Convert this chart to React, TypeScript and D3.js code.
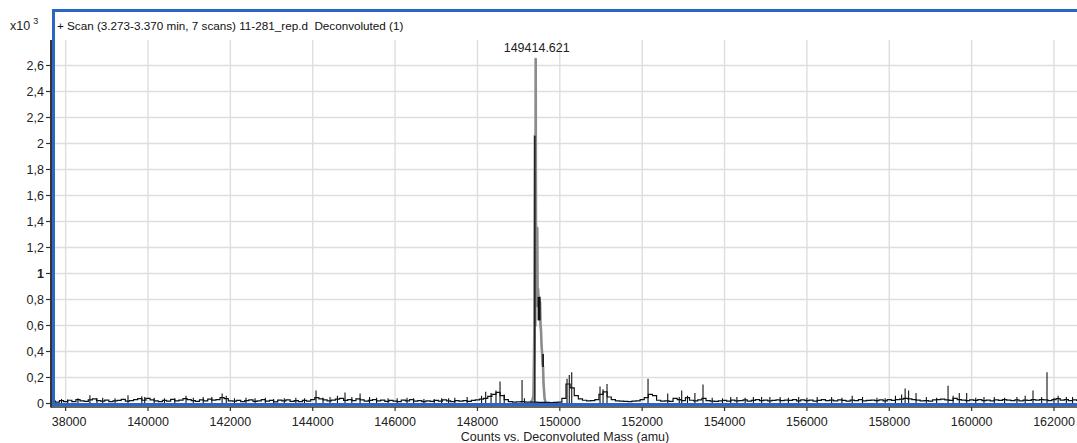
import React from "react";
import * as d3 from "d3";

// header / labels
const scaleLabel = "x10";
const scaleExp = "3";
const title = "+ Scan (3.273-3.370 min, 7 scans) 11-281_rep.d  Deconvoluted (1)";
const xTitle = "Counts vs. Deconvoluted Mass (amu)";
const peakLabel = "149414.621";
const peakMass = 149414.621;

const xTicks = [138000, 140000, 142000, 144000, 146000, 148000, 150000, 152000, 154000, 156000, 158000, 160000, 162000];
const yTicks = [0, 0.2, 0.4, 0.6, 0.8, 1, 1.2, 1.4, 1.6, 1.8, 2, 2.2, 2.4, 2.6];

// baseline noise, one value every 100 amu from 137600, in thousandths of the y unit
const noiseStart = 137600;
const noiseStep = 100;
const noise137600 = [12, 18, 10, 22, 15, 25, 14, 30, 20, 16, 28, 35, 22, 18, 26, 14, 20, 24, 32, 18];
const noise139600 = [22, 30, 38, 25, 40, 28, 20, 14, 24, 18, 32, 20, 26, 38, 30, 22, 16, 28, 20, 34];
const noise141600 = [26, 30, 45, 38, 20, 18, 24, 14, 22, 28, 16, 20, 30, 18, 24, 12, 26, 20, 28, 16];
const noise143600 = [22, 14, 24, 18, 30, 45, 35, 28, 20, 26, 34, 40, 24, 30, 22, 36, 28, 18, 24, 30];
const noise145600 = [20, 26, 16, 24, 18, 14, 26, 20, 30, 18, 22, 14, 20, 16, 24, 18, 28, 20, 14, 22];
const noise147600 = [18, 22, 16, 24, 28, 34, 40, 55, 70, 85, 60, 30, 15, 10, 12, 15, 10, null, null, null];
const noise149600 = [null, 8, 6, 8, 10, 40, 150, 120, 60, 35, 25, 20, 22, 30, 70, 90, 50, 30, 20, 18];
const noise151600 = [16, 14, 18, 20, 30, 45, 70, 60, 25, 18, 20, 16, 40, 30, 22, 45, 25, 20, 28, 40];
const noise153600 = [22, 18, 16, 20, 24, 18, 26, 20, 22, 28, 18, 24, 30, 22, 26, 20, 24, 28, 22, 26];
const noise155600 = [24, 30, 20, 28, 22, 26, 18, 24, 30, 22, 26, 20, 28, 24, 18, 26, 22, 30, 20, 24];
const noise157600 = [26, 22, 28, 20, 30, 24, 30, 34, 40, 35, 30, 26, 20, 22, 18, 28, 30, 34, 28, 24];
const noise159600 = [40, 30, 26, 22, 28, 24, 30, 22, 26, 20, 28, 24, 30, 26, 22, 28, 20, 26, 24, 30];
const noise161600 = [26, 30, 28, 22, 30, 38, 26, 30, 22, 28, 24];

// narrow spikes [mass, intensity]
const spikes: [number, number][] = [
  [137900, 0.035], [138050, 0.03], [138300, 0.04], [138590, 0.064], [138760, 0.04], [138900, 0.045],
  [139200, 0.04], [139514, 0.064], [139850, 0.056], [139920, 0.05], [140150, 0.045], [140400, 0.04],
  [140650, 0.04], [140923, 0.06], [141100, 0.045], [141340, 0.05], [141550, 0.05], [141800, 0.077],
  [141900, 0.06], [142100, 0.04], [142380, 0.045], [142600, 0.04], [142850, 0.045], [143050, 0.035],
  [143310, 0.04], [143590, 0.045], [143800, 0.04], [144080, 0.1], [144250, 0.045], [144420, 0.05],
  [144600, 0.06], [144784, 0.085], [144950, 0.05], [145150, 0.077], [145380, 0.05], [145550, 0.045],
  [145830, 0.04], [146050, 0.04], [146290, 0.045], [146450, 0.04], [146700, 0.035], [146950, 0.035],
  [147130, 0.04], [147300, 0.04], [147450, 0.045], [147750, 0.05], [148100, 0.06], [148200, 0.09],
  [148330, 0.08], [148450, 0.1], [148548, 0.17], [148650, 0.07], [149083, 0.18], [149140, 0.04],
  [150175, 0.19], [150230, 0.22], [150289, 0.24], [150976, 0.13], [151050, 0.11], [151146, 0.15],
  [152142, 0.19], [152620, 0.077], [152900, 0.05], [152960, 0.1], [153100, 0.06], [153280, 0.08],
  [153477, 0.146], [153700, 0.045], [153950, 0.04], [154150, 0.05], [154300, 0.05], [154500, 0.045],
  [154700, 0.05], [154900, 0.05], [155100, 0.05], [155350, 0.05], [155550, 0.045], [155800, 0.05],
  [156000, 0.045], [156250, 0.05], [156600, 0.05], [156850, 0.045], [157100, 0.06], [157350, 0.05],
  [157700, 0.045], [157900, 0.04], [158150, 0.06], [158300, 0.07], [158385, 0.115], [158470, 0.1],
  [158650, 0.08], [158900, 0.05], [159150, 0.045], [159427, 0.136], [159550, 0.06], [159700, 0.08],
  [159880, 0.08], [160100, 0.045], [160300, 0.05], [160550, 0.05], [160800, 0.045], [161100, 0.05],
  [161300, 0.06], [161490, 0.1], [161700, 0.05], [161830, 0.24], [162000, 0.045], [162100, 0.06],
  [162300, 0.05], [162450, 0.05],
];

// main peak profile (grey)
const peakGray: [number, number][] = [
  [149280, 0.01], [149330, 0.02], [149360, 0.06], [149380, 0.5], [149395, 2.06], [149405, 0.6],
  [149414, 2.65], [149422, 1.0], [149430, 1.35], [149440, 0.9], [149452, 1.35], [149462, 0.75],
  [149472, 0.88], [149485, 0.8], [149496, 0.82], [149508, 0.64], [149520, 0.78], [149532, 0.6],
  [149544, 0.56], [149556, 0.45], [149569, 0.39], [149581, 0.3], [149593, 0.28], [149605, 0.15],
  [149617, 0.1], [149630, 0.04], [149650, 0.01],
];
// darker strokes over the grey peak: [mass, low, high, width]
const peakBlack: [number, number, number, number][] = [
  [149394, 0, 2.06, 1.4],
  [149497, 0.64, 0.82, 3],
  [149594, 0.28, 0.38, 1.6],
];

const W = 1077;
const H = 443;
const plot = { left: 54, right: 1077, top: 40, bottom: 404 };
const font = "'Liberation Sans', Arial, sans-serif";
const blue = "#2b66c4";

const x = d3.scaleLinear().domain([140000, 162000]).range([148, 1054]);
const y = d3.scaleLinear().domain([0, 2.6]).range([403.5, 65.5]);

const noiseChunks = [
  noise137600, noise139600, noise141600, noise143600, noise145600, noise147600, noise149600,
  noise151600, noise153600, noise155600, noise157600, noise159600, noise161600,
];

const noisePts: [number, number][] = noiseChunks
  .flat()
  .map((v, i) => [noiseStart + i * noiseStep, v] as [number, number | null])
  .filter(d => d[1] !== null)
  .map(d => [d[0], (d[1] as number) / 1000]);

const stepLine = d3
  .line<[number, number]>()
  .x(d => x(d[0]))
  .y(d => y(d[1]))
  .curve(d3.curveStep);

const peakLine = d3
  .line<[number, number]>()
  .x(d => x(d[0]))
  .y(d => y(d[1]));

const fmtY = (v: number) => (Number.isInteger(v) ? String(v) : v.toFixed(1).replace(".", ","));

export default function App() {
  return (
    <svg
      width={W}
      height={H}
      style={{ position: "absolute", left: 0, top: 0, background: "#fff" }}
      fontFamily={font}
    >
      <defs>
        <clipPath id="plotClip">
          <rect x={plot.left} y={plot.top} width={plot.right - plot.left} height={plot.bottom - plot.top} />
        </clipPath>
        <clipPath id="xLabelClip">
          <rect x={52} y={405} width={W - 52} height={30} />
        </clipPath>
      </defs>

      {/* grid */}
      <g stroke="#dedede" strokeWidth={1.4}>
        {yTicks.filter(t => t > 0).map(t => (
          <line key={t} x1={plot.left} x2={plot.right} y1={y(t)} y2={y(t)} />
        ))}
        {xTicks.map(t => (
          <line key={t} x1={x(t)} x2={x(t)} y1={plot.top} y2={plot.bottom} />
        ))}
      </g>

      {/* spectrum */}
      <g clipPath="url(#plotClip)" fill="none">
        <path d={peakLine(peakGray) || ""} stroke="#8c8c8c" strokeWidth={2.6} strokeLinejoin="round" />
        <path d={stepLine(noisePts) || ""} stroke="#111" strokeWidth={1.2} />
        <g stroke="#111" strokeWidth={1.1}>
          {spikes.map(([m, v]) => (
            <line key={m} x1={x(m)} x2={x(m)} y1={y(0)} y2={y(v)} />
          ))}
        </g>
        <g stroke="#111">
          {peakBlack.map(([m, lo, hi, w]) => (
            <line key={m} x1={x(m)} x2={x(m)} y1={y(lo)} y2={y(hi)} strokeWidth={w} />
          ))}
        </g>
      </g>

      {/* frame */}
      <line x1={plot.left - 0.5} x2={W} y1={10.5} y2={10.5} stroke={blue} strokeWidth={3} />
      <line x1={plot.left - 0.5} x2={plot.left - 0.5} y1={9} y2={405.5} stroke={blue} strokeWidth={3} />
      <line x1={plot.left - 2} x2={W} y1={404.5} y2={404.5} stroke={blue} strokeWidth={3} />

      {/* y axis */}
      <line x1={51} x2={51} y1={plot.top} y2={407.5} stroke="#333" strokeWidth={2} />
      {yTicks.map(t => (
        <g key={t} transform={`translate(0,${y(t)})`}>
          <line x1={46} x2={51} stroke="#333" strokeWidth={1.2} />
          <text
            x={44}
            dy="0.35em"
            textAnchor="end"
            fontSize={12.5}
            fill="#222"
            fontWeight={t === 1 ? "bold" : "normal"}
          >
            {fmtY(t)}
          </text>
        </g>
      ))}

      {/* x axis */}
      <line x1={51} x2={W} y1={407} y2={407} stroke="#333" strokeWidth={1.5} />
      <g clipPath="url(#xLabelClip)">
        {xTicks.map(t => (
          <g key={t} transform={`translate(${x(t)},0)`}>
            <line y1={407} y2={411} stroke="#333" strokeWidth={1.2} />
            <text y={426} textAnchor="middle" fontSize={12.5} fill="#222">
              {t}
            </text>
          </g>
        ))}
      </g>
      <text x={565} y={441} textAnchor="middle" fontSize={12.5} fill="#222">
        {xTitle}
      </text>

      {/* header */}
      <text x={10} y={30} fontSize={12.5} fill="#222">
        {scaleLabel}
        <tspan dx={3} dy={-6} fontSize={9}>
          {scaleExp}
        </tspan>
      </text>
      <text x={57} y={30} fontSize={11.7} fill="#111" style={{ whiteSpace: "pre" }}>
        {title}
      </text>
      <text x={x(peakMass) + 1} y={52} textAnchor="middle" fontSize={12.5} fill="#222">
        {peakLabel}
      </text>
    </svg>
  );
}
